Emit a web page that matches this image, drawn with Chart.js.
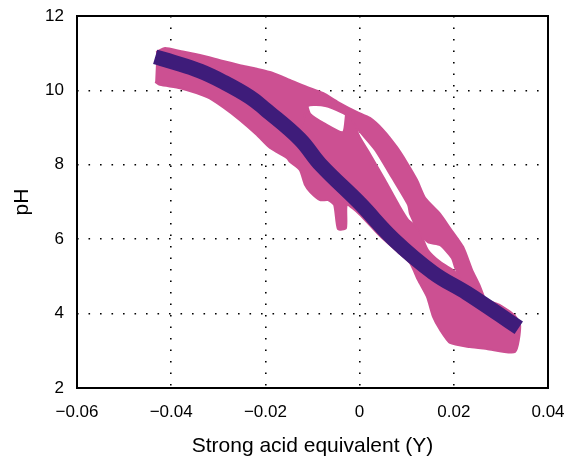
<!DOCTYPE html>
<html>
<head>
<meta charset="utf-8">
<title>Titration curve</title>
<script src="https://cdn.jsdelivr.net/npm/chart.js@4.4.1/dist/chart.umd.min.js"></script>
<style>
  html, body { margin: 0; padding: 0; background: #fff; }
</style>
</head>
<body>
<canvas id="chart-titration" width="570" height="459"></canvas>
<script>
/* ── Axis ticks ─────────────────────────────────────────── */
const xTickValues = [-0.06, -0.04, -0.02, 0, 0.02, 0.04];
const xTickLabels = ['\u22120.06', '\u22120.04', '\u22120.02', '0', '0.02', '0.04'];
const yTickValues = [2, 4, 6, 8, 10, 12];
const yTickLabels = ['2', '4', '6', '8', '10', '12'];

/* ── Model curve (dark band) ────────────────────────────── */
const modelX  = [-0.0434, -0.0396, -0.0339, -0.0290, -0.0233, -0.0201, -0.0127,
                 -0.0082, 0.0000, 0.0071, 0.0156, 0.0228, 0.0298, 0.0338];
const modelPH = [10.90, 10.76, 10.52, 10.23, 9.82, 9.50, 8.69,
                 7.99, 6.97, 6.01, 5.10, 4.55, 3.96, 3.62];

/* ── Measured cloud, outer branch (outline) ── */
const outerX  = [-0.0432, -0.0413, -0.0381, -0.0339, -0.0290, -0.0254, -0.0218, -0.0184,
                 -0.0148, -0.0112, -0.0078, -0.0042, -0.0006, 0.0022, 0.0050, 0.0079,
                 0.0101, 0.0122, 0.0139, 0.0171, 0.0192, 0.0220, 0.0239, 0.0256, 0.0270,
                 0.0234, 0.0203, 0.0196, 0.0171, 0.0145, 0.0124, 0.0107, 0.0103, 0.0069,
                 0.0033, -0.0006, -0.0020, -0.0035, -0.0073, -0.0110, -0.0127, -0.0190,
                 -0.0254, -0.0339, -0.0413, -0.0432];
const outerPH = [11.03, 11.14, 11.06, 10.95, 10.79, 10.68, 10.58, 10.47,
                 10.28, 10.09, 9.93, 9.66, 9.42, 9.26, 8.94, 8.48,
                 8.05, 7.59, 7.11, 6.68, 6.30, 5.79, 5.17, 4.72, 4.18,
                 4.50, 5.23, 5.49, 5.84, 5.92, 6.25, 6.68, 6.92, 7.65,
                 8.40, 8.99, 9.26, 9.39, 9.58, 9.58, 8.94, 9.47,
                 10.01, 10.55, 10.87, 10.92];

/* ── Measured cloud, inner band (outline) ───────────────── */
const innerX  = [-0.0432, -0.0339, -0.0254, -0.0190, -0.0148, -0.0116, -0.0105, -0.0073,
                 -0.0035, -0.0027, -0.0014, -0.0003, 0.0022, 0.0054, 0.0082, 0.0103, 0.0124,
                 0.0145, 0.0171, 0.0203, 0.0230, 0.0270, 0.0298, 0.0330,
                 0.0341, 0.0330,
                 0.0270, 0.0234, 0.0192, 0.0171, 0.0156, 0.0143, 0.0124, 0.0107,
                 0.0086, 0.0043, -0.0001, -0.0027, -0.0029, -0.0046, -0.0054, -0.0067,
                 -0.0084, -0.0105, -0.0116, -0.0127, -0.0148, -0.0154, -0.0190, -0.0218,
                 -0.0254, -0.0290, -0.0324, -0.0381, -0.0424, -0.0434];
const innerPH = [10.82, 10.66, 10.23, 9.74, 9.88, 9.74, 9.37, 9.10,
                 8.88, 9.47, 9.42, 8.83, 8.29, 7.59, 6.95, 6.52, 6.30,
                 5.71, 5.39, 5.12, 4.77, 4.37, 4.23, 3.94,
                 3.67, 2.97,
                 3.05, 3.10, 3.21, 3.56, 3.91, 4.45, 4.90, 5.36,
                 5.60, 6.09, 6.68, 6.92, 6.30, 6.27, 6.92, 7.05,
                 7.05, 7.27, 7.46, 7.86, 8.08, 8.18, 8.45, 8.80,
                 9.20, 9.55, 9.82, 10.06, 10.15, 10.23];

/* ── Style ──────────────────────────────────────────────── */
const FONT   = '"Liberation Sans", Arial, Helvetica, sans-serif';
const PINK   = '#CC5092';
const PURPLE = '#3E1C7A';

function toPoints(xs, ys) {
  return xs.map((x, i) => ({ x, y: ys[i] }));
}

// no extra room for overhanging tick labels: plot area = layout padding
function noLabelPadding(s) {
  s.paddingLeft = 0; s.paddingRight = 0; s.paddingTop = 0; s.paddingBottom = 0;
}

// closed box round the plot area, like the original axes frame
const frameBox = {
  id: 'frameBox',
  afterDatasetsDraw(chart) {
    const { ctx, chartArea: a } = chart;
    ctx.save();
    ctx.strokeStyle = '#000';
    ctx.lineWidth = 2;
    ctx.strokeRect(a.left, a.top, a.right - a.left, a.bottom - a.top);
    ctx.restore();
  }
};

new Chart(document.getElementById('chart-titration'), {
  type: 'scatter',
  data: {
    datasets: [
      { label: 'Model', data: toPoints(modelX, modelPH), showLine: true,
        borderColor: PURPLE, borderWidth: 15, pointRadius: 0,
        tension: 0.4, fill: false, order: 0 },
      { label: 'Measured (outer)', data: toPoints(outerX, outerPH), showLine: true,
        borderColor: PINK, backgroundColor: PINK, borderWidth: 2, pointRadius: 0,
        tension: 0.2, fill: 'shape', order: 1 },
      { label: 'Measured (inner)', data: toPoints(innerX, innerPH), showLine: true,
        borderColor: PINK, backgroundColor: PINK, borderWidth: 2, pointRadius: 0,
        tension: 0.2, fill: 'shape', order: 2 }
    ]
  },
  options: {
    responsive: false,
    animation: false,
    layout: { padding: { top: 16, right: 22, left: 0, bottom: 0 } },
    plugins: { legend: { display: false }, tooltip: { enabled: false } },
    scales: {
      x: {
        type: 'linear', min: -0.06, max: 0.04,
        afterBuildTicks: s => { s.ticks = xTickValues.map(value => ({ value })); },
        afterFit: s => { s.height = 71; noLabelPadding(s); },
        ticks: { callback: (v, i) => xTickLabels[i], color: '#000',
                 font: { family: FONT, size: 17 }, padding: 14, maxRotation: 0, autoSkip: false },
        grid: { color: '#000', lineWidth: 1.6, drawTicks: false },
        border: { display: false, dash: [1.6, 9.9] },
        title: { display: true, text: 'Strong acid equivalent (Y)', color: '#000',
                 font: { family: FONT, size: 21 }, padding: { top: 0, bottom: 0 } }
      },
      y: {
        type: 'linear', min: 2, max: 12,
        afterBuildTicks: s => { s.ticks = yTickValues.map(value => ({ value })); },
        afterFit: s => { s.width = 77; noLabelPadding(s); },
        ticks: { callback: (v, i) => yTickLabels[i], color: '#000',
                 font: { family: FONT, size: 17 }, padding: 13, autoSkip: false },
        grid: { color: '#000', lineWidth: 1.6, drawTicks: false },
        border: { display: false, dash: [1.6, 9.9] },
        title: { display: true, text: 'pH', color: '#000',
                 font: { family: FONT, size: 21 }, padding: { top: 10, bottom: 0 } }
      }
    }
  },
  plugins: [frameBox]
});
</script>
</body>
</html>
